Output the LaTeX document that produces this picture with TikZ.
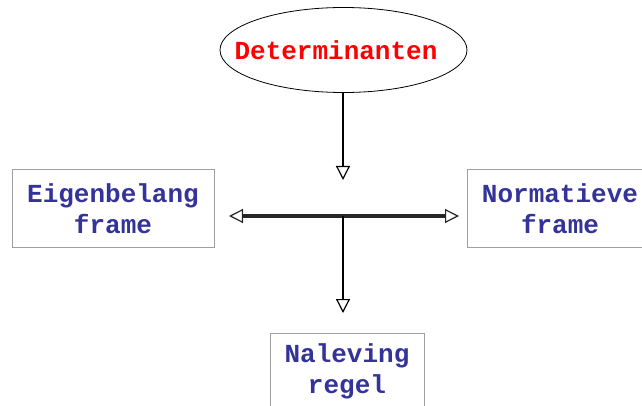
\documentclass[tikz,border=0pt]{standalone}
\usepackage{fontspec}
\setmainfont{Liberation Mono}
\usetikzlibrary{shapes.geometric,arrows.meta}
\definecolor{txtblue}{RGB}{51,51,153}
\definecolor{boxgray}{RGB}{160,160,160}
\begin{document}
\begin{tikzpicture}[x=1pt,y=-1pt,
  lbl/.style={font=\fontsize{26}{31}\selectfont\bfseries, align=center},
  framebox/.style={lbl, draw=boxgray, line width=1pt, text=txtblue, inner sep=0pt},
  tipstyle/.style={},
  opentip/.style={-{Triangle[open,length=14pt,width=14pt,fill=white,line width=1.2pt]}},
  conn/.style={line width=2pt, black},
  dbl/.style={line width=3.2pt, black!85}]
\useasboundingbox (0,0) rectangle (642,406);
\node[ellipse, draw, line width=0.8pt, minimum width=247pt, minimum height=85pt, inner sep=0pt] (det) at (343.5,50) {};
\node[lbl, text=red] (dettxt) at (336,50) {Determinanten};
\node[framebox, minimum width=202pt, minimum height=77pt] (eigen) at (113,208.5) {Eigenbelang\\frame};
\node[framebox, minimum width=186pt, minimum height=77pt] (norm) at (560,208.5) {Normatieve\\frame};
\node[framebox, minimum width=154pt, minimum height=77pt] (nal) at (347,371.5) {Naleving\\regel};
\coordinate (tip1) at (343,180);
\coordinate (jn) at (343,216);
\coordinate (lt) at (229,216);
\coordinate (rt) at (459,216);
\coordinate (tip2) at (343,313);
\draw[conn, opentip] (det.south -| tip1) -- (tip1);
\draw[dbl, {Triangle[open,length=14pt,width=14pt,fill=white,line width=1.2pt]}-{Triangle[open,length=14pt,width=14pt,fill=white,line width=1.2pt]}] (lt) -- (rt);
\draw[conn, opentip] (jn) -- (tip2);
\end{tikzpicture}
\end{document}
